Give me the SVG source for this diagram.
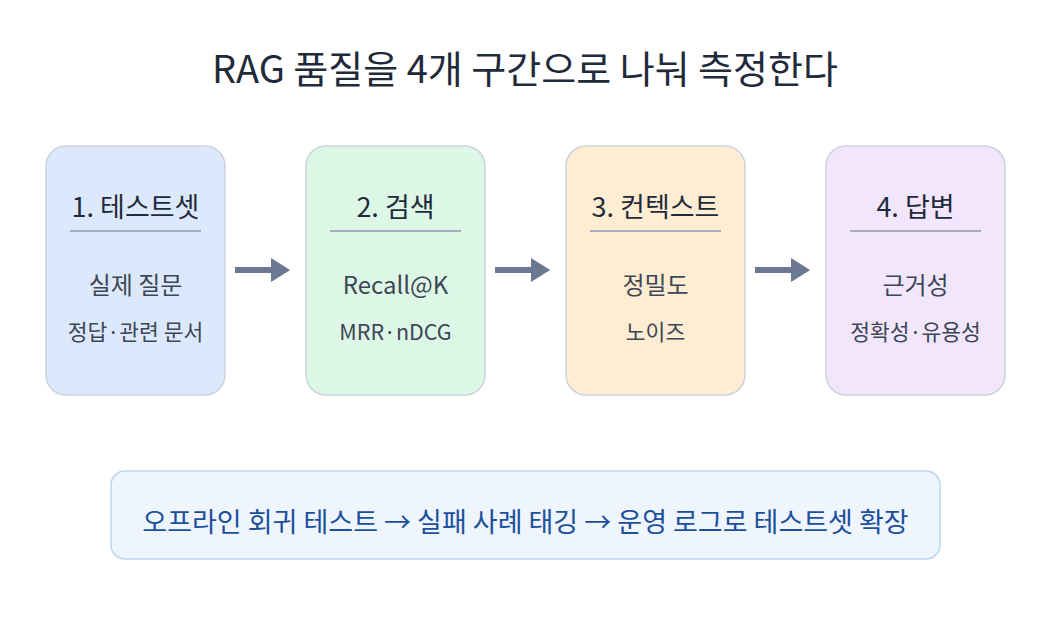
<svg xmlns="http://www.w3.org/2000/svg" width="1050" height="620" viewBox="0 0 1050 620">
<style>
text{font-family:"Noto Sans CJK KR","Noto Sans",sans-serif;text-anchor:middle}
.box{stroke:#cbd3de;stroke-width:1.5}
.t{font-size:27px;fill:#1f2a3a}
.b1{font-size:24px;fill:#3d4654}
.b2{font-size:21.5px;fill:#3d4654}
.sep{stroke:#a3adbb;stroke-width:2}
.arr{stroke:#6b7891;stroke-width:6}
</style>
<defs><marker id="ah" markerWidth="4" markerHeight="4" refX="1" refY="2" orient="auto" markerUnits="strokeWidth"><path d="M0,0L3.2,2L0,4Z" fill="#6b7891"/></marker></defs>
<rect width="1050" height="620" fill="#fff"/>
<text x="525" y="83" style="font-size:38px;fill:#1f2a3a">RAG 품질을 4개 구간으로 나눠 측정한다</text>
<g id="n1"><rect class="box" x="46" y="146" width="179" height="249" rx="20" fill="#dce9fc"/><text class="t" x="135.5" y="217">1. 테스트셋</text><line class="sep" x1="70" y1="231" x2="201" y2="231"/><text class="b1" x="135.5" y="294">실제 질문</text><text class="b2" x="135.5" y="340">정답·관련 문서</text></g>
<g id="n2"><rect class="box" x="306" y="146" width="179" height="249" rx="20" fill="#ddf7e6"/><text class="t" x="395.5" y="217">2. 검색</text><line class="sep" x1="330" y1="231" x2="461" y2="231"/><text class="b1" x="395.5" y="294">Recall@K</text><text class="b2" x="395.5" y="340">MRR·nDCG</text></g>
<g id="n3"><rect class="box" x="566" y="146" width="179" height="249" rx="20" fill="#feecd3"/><text class="t" x="655.5" y="217">3. 컨텍스트</text><line class="sep" x1="590" y1="231" x2="721" y2="231"/><text class="b1" x="655.5" y="294">정밀도</text><text class="b2" x="655.5" y="340">노이즈</text></g>
<g id="n4"><rect class="box" x="826" y="146" width="179" height="249" rx="20" fill="#f2e6fd"/><text class="t" x="915.5" y="217">4. 답변</text><line class="sep" x1="850" y1="231" x2="981" y2="231"/><text class="b1" x="915.5" y="294">근거성</text><text class="b2" x="915.5" y="340">정확성·유용성</text></g>
<g id="connectors">
<line class="arr" x1="235" y1="270" x2="277" y2="270" marker-end="url(#ah)"/>
<line class="arr" x1="495" y1="270" x2="537" y2="270" marker-end="url(#ah)"/>
<line class="arr" x1="755" y1="270" x2="797" y2="270" marker-end="url(#ah)"/>
</g>
<g id="note"><rect x="111" y="471" width="829" height="88" rx="14" fill="#eef5fd" stroke="#bcd4f3" stroke-width="1.5"/><text x="525.5" y="532" style="font-size:27px;fill:#1c4f9c">오프라인 회귀 테스트 → 실패 사례 태깅 → 운영 로그로 테스트셋 확장</text></g>
</svg>
